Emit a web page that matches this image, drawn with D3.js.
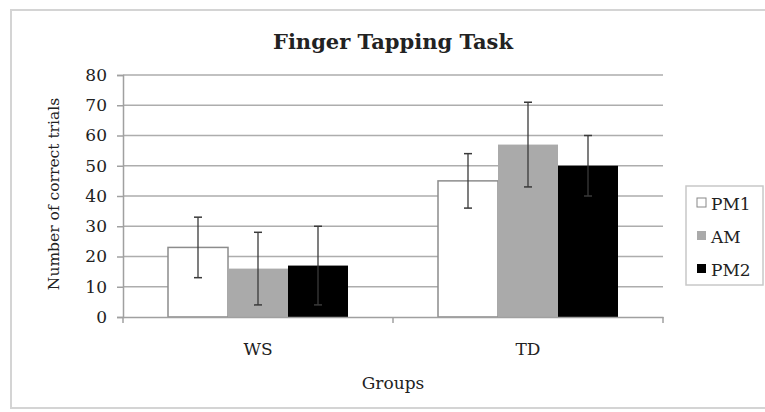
<!DOCTYPE html>
<html>
<head>
<meta charset="utf-8">
<script src="https://cdn.jsdelivr.net/npm/d3@7"></script>
<style>
  body { margin: 0; background: #fff; }
  text { font-family: "DejaVu Serif", "Liberation Serif", serif; fill: #222; }
</style>
</head>
<body>
<div id="chart"></div>
<script>
// data
var groups = ["WS", "TD"];
var sessions = ["PM1", "AM", "PM2"];
var means = {
  PM1: [23, 45],
  AM: [16, 57],
  PM2: [17, 50]
};
var errors = {
  PM1: [10, 9],
  AM: [12, 14],
  PM2: [13, 10]
};
var yTicks = [0, 10, 20, 30, 40, 50, 60, 70, 80];
var fills = { PM1: "#ffffff", AM: "#aaaaaa", PM2: "#000000" };

var svgWidth = 765;
var svgHeight = 412;

var margin = { top: 75, right: 102, bottom: 95, left: 123 };
var width = svgWidth - margin.left - margin.right;
var height = svgHeight - margin.top - margin.bottom;

var svg = d3.select("#chart")
  .append("svg")
  .attr("width", svgWidth)
  .attr("height", svgHeight);

// outer frame
svg.append("rect")
  .attr("x", 11)
  .attr("y", 10)
  .attr("width", 780)
  .attr("height", 398)
  .attr("fill", "none")
  .attr("stroke", "#d4d4d4")
  .attr("stroke-width", 2);

var chartGroup = svg.append("g")
  .attr("transform", `translate(${margin.left}, ${margin.top})`);

var x0 = d3.scaleBand()
  .domain(groups)
  .range([0, width])
  .paddingInner(1 / 3)
  .paddingOuter(1 / 6);

var x1 = d3.scaleBand()
  .domain(sessions)
  .range([0, x0.bandwidth()]);

var y = d3.scaleLinear()
  .domain([0, 80])
  .range([height, 0]);

// gridlines
chartGroup.append("g")
  .selectAll("line")
  .data(yTicks.filter(d => d > 0))
  .enter()
  .append("line")
  .attr("x1", 0)
  .attr("x2", width)
  .attr("y1", d => y(d))
  .attr("y2", d => y(d))
  .attr("stroke", "#adadad")
  .attr("stroke-width", 1.6);

// y axis
var leftAxis = d3.axisLeft(y).tickValues(yTicks).tickSize(6).tickPadding(10);
var yAxis = chartGroup.append("g").call(leftAxis);
yAxis.select(".domain").attr("stroke", "#a0a0a0").attr("stroke-width", 1.5);
yAxis.selectAll(".tick line").attr("stroke", "#a0a0a0").attr("stroke-width", 1.5);
yAxis.selectAll("text").style("font-size", "17px").attr("fill", "#333");

// bars
var barGroups = chartGroup.selectAll(".grp")
  .data(groups)
  .enter()
  .append("g")
  .attr("transform", d => `translate(${x0(d)}, 0)`);

barGroups.selectAll("rect")
  .data((g, i) => sessions.map(s => ({ s: s, v: means[s][i], e: errors[s][i] })))
  .enter()
  .append("rect")
  .attr("x", d => x1(d.s))
  .attr("y", d => y(d.v))
  .attr("width", x1.bandwidth())
  .attr("height", d => height - y(d.v))
  .attr("fill", d => fills[d.s])
  .attr("stroke", d => d.s === "PM1" ? "#8c8c8c" : "none")
  .attr("stroke-width", 1.5);

// error bars
var errs = barGroups.selectAll(".err")
  .data((g, i) => sessions.map(s => ({ s: s, v: means[s][i], e: errors[s][i] })))
  .enter()
  .append("g")
  .attr("transform", d => `translate(${x1(d.s) + x1.bandwidth() / 2}, 0)`);

errs.append("line")
  .attr("x1", 0).attr("x2", 0)
  .attr("y1", d => y(d.v + d.e))
  .attr("y2", d => y(d.v - d.e))
  .attr("stroke", "#3a3a3a")
  .attr("stroke-width", 1.3);

errs.selectAll(".cap")
  .data(d => [d.v + d.e, d.v - d.e])
  .enter()
  .append("line")
  .attr("x1", -4).attr("x2", 4)
  .attr("y1", d => y(d))
  .attr("y2", d => y(d))
  .attr("stroke", "#3a3a3a")
  .attr("stroke-width", 1.5);

// x axis
var bottomAxis = d3.axisBottom(x0).tickSize(0).tickPadding(26);
var xAxis = chartGroup.append("g")
  .attr("transform", `translate(0, ${height})`)
  .call(bottomAxis);
xAxis.select(".domain").attr("stroke", "#a0a0a0").attr("stroke-width", 1.5);
xAxis.selectAll("text").style("font-size", "17px").attr("fill", "#222");

// category separator ticks
xAxis.selectAll(".sep")
  .data([0, x0.step(), width])
  .enter()
  .append("line")
  .attr("x1", d => d).attr("x2", d => d)
  .attr("y1", 0).attr("y2", 6)
  .attr("stroke", "#a0a0a0")
  .attr("stroke-width", 1.5);

// title
svg.append("text")
  .attr("x", margin.left + width / 2)
  .attr("y", 49)
  .attr("text-anchor", "middle")
  .style("font-size", "21px")
  .style("font-weight", "bold")
  .attr("fill", "#111")
  .text("Finger Tapping Task");

// axis labels
svg.append("text")
  .attr("transform", "rotate(-90)")
  .attr("x", -(margin.top + height / 2) + 2)
  .attr("y", 59)
  .attr("text-anchor", "middle")
  .style("font-size", "15.5px")
  .attr("fill", "#333")
  .text("Number of correct trials");

svg.append("text")
  .attr("x", margin.left + width / 2)
  .attr("y", 389)
  .attr("text-anchor", "middle")
  .style("font-size", "17px")
  .attr("fill", "#333")
  .text("Groups");

// legend
var legend = svg.append("g").attr("transform", "translate(686, 186)");
legend.append("rect")
  .attr("width", 77)
  .attr("height", 99)
  .attr("fill", "#fff")
  .attr("stroke", "#c8c8c8")
  .attr("stroke-width", 1.5);

var items = legend.selectAll(".item")
  .data(sessions)
  .enter()
  .append("g")
  .attr("transform", (d, i) => `translate(11, ${17 + i * 33})`);

items.append("rect")
  .attr("x", 0).attr("y", -5)
  .attr("width", 9).attr("height", 9)
  .attr("fill", d => fills[d])
  .attr("stroke", d => d === "PM1" ? "#888" : "none");

items.append("text")
  .attr("x", 14)
  .attr("y", 7)
  .style("font-size", "17px")
  .attr("fill", "#222")
  .text(d => d);
</script>
</body>
</html>
